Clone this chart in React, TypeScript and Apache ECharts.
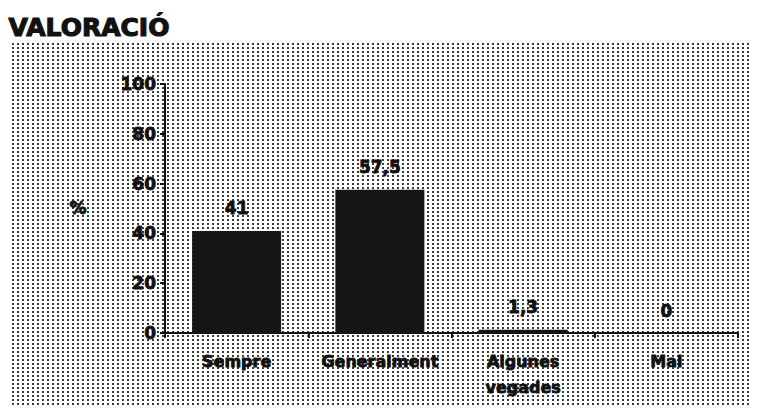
import React, { useEffect, useRef } from "react";
import * as echarts from "echarts";

const title = "VALORACIÓ";
const categories = ["Sempre", "Generalment", "Algunes\nvegades", "Mai"];
const values = [41, 57.5, 1.3, 0];
const yMin = 0;
const yMax = 100;
const yInterval = 20;
const yName = "%";

export default function App() {
  const ref = useRef<HTMLDivElement>(null);
  useEffect(() => {
    if (!ref.current) return;
    const chart = echarts.init(ref.current, null, { renderer: "svg" });
    const c = document.createElement("canvas");
    c.width = 5;
    c.height = 4;
    const ctx = c.getContext("2d")!;
    ctx.fillStyle = "#ffffff";
    ctx.fillRect(0, 0, 5, 4);
    ctx.fillStyle = "#3a3a3a";
    ctx.fillRect(1, 1, 2, 2);
    const font = "'DejaVu Sans', sans-serif";
    const ink = "#111";
    const heavy = { textBorderColor: ink, textBorderWidth: 0.8 };
    chart.setOption({
      animation: false,
      backgroundColor: "#ffffff",
      textStyle: { fontFamily: font, fontWeight: "bold", color: ink },
      graphic: [
        {
          type: "rect",
          left: 11,
          top: 42,
          z: -10,
          silent: true,
          shape: { width: 748, height: 372 },
          style: {
            fill: { image: c, repeat: "repeat", imageWidth: 5, imageHeight: 4 } as any,
          },
        },
        {
          type: "text",
          left: 8,
          top: 14,
          style: { text: title, font: `bold 25px ${font}`, fill: ink, stroke: ink, lineWidth: 1.2 },
        },
        {
          type: "text",
          x: 78,
          y: 208,
          style: {
            text: yName,
            font: `bold 17px ${font}`,
            fill: ink,
            stroke: ink,
            lineWidth: 0.8,
            align: "center",
            verticalAlign: "middle",
          },
        },
      ],
      grid: { left: 165, right: 21, top: 84, bottom: 81, containLabel: false },
      xAxis: {
        type: "category",
        data: categories,
        axisLine: { lineStyle: { color: ink, width: 2 } },
        axisTick: { show: true, length: 5, lineStyle: { color: ink, width: 2 } },
        axisLabel: {
          interval: 0,
          margin: 15,
          fontSize: 16,
          fontWeight: "bold",
          fontFamily: font,
          color: ink,
          lineHeight: 26,
          ...heavy,
        },
      },
      yAxis: {
        type: "value",
        min: yMin,
        max: yMax,
        interval: yInterval,
        splitLine: { show: false },
        axisLine: { show: true, lineStyle: { color: ink, width: 2 } },
        axisTick: { show: true, length: 5, lineStyle: { color: ink, width: 2 } },
        axisLabel: {
          margin: 9,
          fontSize: 17,
          fontWeight: "bold",
          fontFamily: font,
          color: ink,
          ...heavy,
        },
      },
      series: [
        {
          type: "bar",
          data: values,
          barWidth: 89,
          itemStyle: { color: "#151515" },
          label: {
            show: true,
            position: "top",
            distance: 14,
            fontSize: 17,
            fontWeight: "bold",
            fontFamily: font,
            color: ink,
            ...heavy,
            formatter: (p: any) => String(p.value).replace(".", ","),
          },
        },
      ],
    });
    return () => chart.dispose();
  }, []);
  return <div ref={ref} style={{ width: 759, height: 414, margin: -8 }} />;
}
